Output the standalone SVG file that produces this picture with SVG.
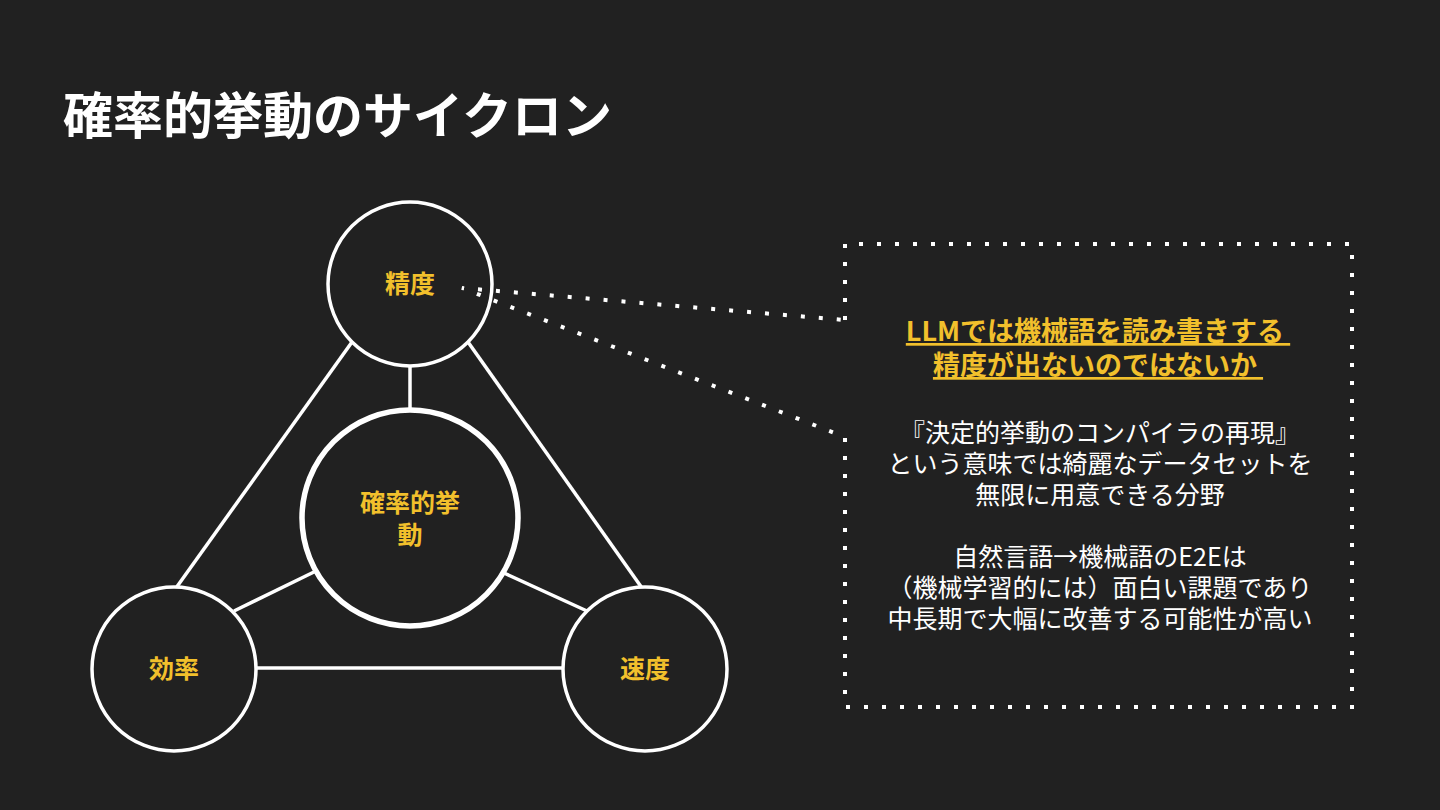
<svg xmlns="http://www.w3.org/2000/svg" width="1440" height="810" viewBox="0 0 1440 810">
<style>
.bg{fill:#212121}
.node{fill:#212121;stroke:#ffffff;stroke-width:3.5}
.core{fill:#212121;stroke:#ffffff;stroke-width:5.5}
.conn{stroke:#ffffff;stroke-width:3.5;fill:none}
.dot{stroke:#ffffff;stroke-width:4;stroke-dasharray:4 14;fill:none}
.lbl{font-family:"Noto Sans CJK JP","Noto Sans",sans-serif;font-weight:700;fill:#f2c02c;text-anchor:middle}
.title{font-family:"Noto Sans CJK JP","Noto Sans",sans-serif;font-weight:700;fill:#ffffff;font-size:50px}
.head{font-family:"Noto Sans CJK JP","Noto Sans",sans-serif;font-weight:700;fill:#f2c02c;font-size:27px;text-anchor:middle;text-decoration:underline}
.body{font-family:"Noto Sans CJK JP","Noto Sans",sans-serif;fill:#ffffff;font-size:25px;text-anchor:middle}
</style>
<rect class="bg" x="0" y="0" width="1440" height="810"/>
<text class="title" x="63" y="134">確率的挙動のサイクロン</text>
<g id="connectors">
<line class="conn" x1="410" y1="366" x2="410" y2="410"/>
<line class="conn" x1="352" y1="342" x2="176" y2="588"/>
<line class="conn" x1="468" y1="342" x2="642" y2="588"/>
<line class="conn" x1="256" y1="668" x2="563" y2="668"/>
<line class="conn" x1="316" y1="571" x2="234" y2="611"/>
<line class="conn" x1="504" y1="573" x2="587" y2="611"/>
</g>
<g id="node-seido">
<circle class="node" cx="410" cy="284" r="82"/>
<text class="lbl" x="410" y="293" font-size="25">精度</text>
</g>
<g id="node-core">
<circle class="core" cx="410" cy="518" r="108"/>
<text class="lbl" font-size="25"><tspan x="410" y="512">確率的挙</tspan><tspan x="410" y="544">動</tspan></text>
</g>
<g id="node-kouritsu">
<circle class="node" cx="174" cy="669" r="82"/>
<text class="lbl" x="174" y="678" font-size="25">効率</text>
</g>
<g id="node-sokudo">
<circle class="node" cx="645" cy="669" r="82"/>
<text class="lbl" x="645" y="678" font-size="25">速度</text>
</g>
<g id="callout">
<path class="dot" d="M845,320 L845,244 L1352,244 L1352,707 L845,707 L845,437 L462,288 Z"/>
<text class="head"><tspan x="1098" y="341">LLMでは機械語を読み書きする&#160;</tspan><tspan x="1098" y="375">精度が出ないのではないか&#160;</tspan></text>
<text class="body"><tspan x="1100" y="442">『決定的挙動のコンパイラの再現』</tspan><tspan x="1100" y="473">という意味では綺麗なデータセットを</tspan><tspan x="1100" y="504">無限に用意できる分野</tspan><tspan x="1100" y="566">自然言語→機械語のE2Eは</tspan><tspan x="1100" y="597">（機械学習的には）面白い課題であり</tspan><tspan x="1100" y="628">中長期で大幅に改善する可能性が高い</tspan></text>
</g>
</svg>
